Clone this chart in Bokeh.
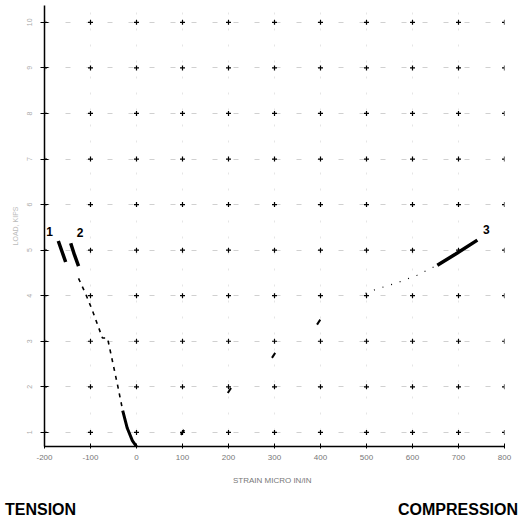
from bokeh.plotting import figure
from bokeh.models import FixedTicker, Label, Div
from bokeh.layouts import column
from bokeh.embed import file_html
from bokeh.resources import INLINE

# ---- data ----
x_ticks = [-200, -100, 0, 100, 200, 300, 400, 500, 600, 700, 800]
x_tick_labels = ["-200", "-100", "0", "100", "200", "300", "400", "500", "600", "700", "800"]
y_rows = [1, 2, 3, 4, 5, 6, 7, 8, 9, 10]
y_tick_labels = ["1", "2", "3", "4", "5", "6", "7", "8", "9", "10"]
side_labels = ["TENSION", "COMPRESSION"]

curve1_x = [-170, -162, -154]
curve1_y = [5.20, 4.97, 4.74]
curve2_x = [-143, -135, -126]
curve2_y = [5.15, 4.90, 4.65]
tail_x = [-126, -111, -96, -74, -63, -41, -30]
tail_y = [4.38, 4.05, 3.68, 3.07, 3.07, 2.03, 1.48]
final_x = [-30, -20, -9, 0]
final_y = [1.48, 1.09, 0.82, 0.69]

curve3_dot_x = [498, 526, 563, 610, 654]
curve3_dot_y = [4.05, 4.16, 4.27, 4.45, 4.67]
curve3_x = [654, 693, 741]
curve3_y = [4.67, 4.91, 5.22]

pts_x = [100, 202, 298, 396]
pts_y = [1.00, 1.92, 2.69, 3.42]

p = figure(width=525, height=490, x_range=(-200, 800), y_range=(0.69, 10.37),
           output_backend="svg", toolbar_location=None,
           min_border_left=44, min_border_right=21, min_border_top=5, min_border_bottom=44)
p.outline_line_color = None
p.background_fill_color = "white"

# axes
p.xaxis.ticker = FixedTicker(ticks=x_ticks)
p.xaxis.major_label_overrides = {t: l for t, l in zip(x_ticks, x_tick_labels)}
p.xaxis.axis_label = "STRAIN  MICRO  IN/IN"
p.xaxis.axis_label_text_font = "Liberation Sans"
p.xaxis.axis_label_text_font_style = "normal"
p.xaxis.axis_label_text_font_size = "8px"
p.xaxis.axis_label_text_color = "#777777"
p.xaxis.axis_label_standoff = 13
p.xaxis.major_label_text_font = "Liberation Sans"
p.xaxis.major_label_text_font_size = "8px"
p.xaxis.major_label_text_color = "#777777"
p.xaxis.major_label_standoff = 6
p.xaxis.axis_line_width = 1.5
p.xaxis.major_tick_in = 3
p.xaxis.major_tick_out = 2
p.xaxis.minor_tick_line_color = None

p.yaxis.ticker = FixedTicker(ticks=y_rows)
p.yaxis.major_label_overrides = {t: l for t, l in zip(y_rows, y_tick_labels)}
p.yaxis.major_label_text_font = "Liberation Sans"
p.yaxis.major_label_text_font_size = "7px"
p.yaxis.major_label_text_color = "#aaaaaa"
p.yaxis.major_label_orientation = "vertical"
p.yaxis.major_label_standoff = 8
p.yaxis.axis_label = "LOAD, KIPS"
p.yaxis.axis_label_text_font = "Liberation Sans"
p.yaxis.axis_label_text_font_style = "normal"
p.yaxis.axis_label_text_font_size = "7px"
p.yaxis.axis_label_text_color = "#bbbbbb"
p.yaxis.axis_label_standoff = 6
p.yaxis.axis_line_width = 1.5
p.yaxis.major_tick_in = 4
p.yaxis.major_tick_out = 4
p.yaxis.minor_tick_line_color = None

# grid
p.xgrid.ticker = FixedTicker(ticks=x_ticks)
p.ygrid.ticker = FixedTicker(ticks=y_rows)
p.xgrid.grid_line_color = "#aaaaaa"
p.xgrid.grid_line_alpha = 0.3
p.xgrid.grid_line_dash = "2 14"
p.ygrid.grid_line_color = "#777777"
p.ygrid.grid_line_alpha = 0.35
p.ygrid.grid_line_dash = "5 16"

# intersection dots
gx = [x for x in x_ticks for _ in y_rows]
gy = [y for _ in x_ticks for y in y_rows]
p.scatter(gx, gy, marker="cross", size=5, line_color="black", line_width=1.2)

# curves
p.line(curve1_x, curve1_y, line_color="black", line_width=3.5)
p.line(curve2_x, curve2_y, line_color="black", line_width=3.5)
p.line(tail_x, tail_y, line_color="black", line_width=1.6, line_dash="4 5")
p.line(final_x, final_y, line_color="black", line_width=3)
p.line(curve3_dot_x, curve3_dot_y, line_color="black", line_width=1.2, line_dash="1 8")
p.line(curve3_x, curve3_y, line_color="black", line_width=3.5)
p.scatter(pts_x, pts_y, marker="dash", size=6, line_color="black", line_width=2, angle=1.0)

# curve labels
for txt, x, y in [("1", -196, 5.32), ("2", -130, 5.28), ("3", 753, 5.35)]:
    p.add_layout(Label(x=x, y=y, text=txt, text_font="Liberation Sans", text_font_style="bold",
                       text_font_size="12px", text_color="black"))

# bottom strip with side labels
html = ("<div style=\"display:flex;justify-content:space-between;align-items:flex-end;"
        "box-sizing:border-box;width:525px;height:31px;padding:0 7px 3px 5px;"
        "font-family:'Liberation Sans';font-weight:bold;font-size:16px;color:black;"
        "line-height:16px;\">"
        f"<span>{side_labels[0]}</span><span>{side_labels[1]}</span></div>")
strip = Div(text=html, width=525, height=31, margin=(0, 0, 0, 0))

layout = column(p, strip, spacing=0)
open("out.html", "w").write(file_html(layout, INLINE))
